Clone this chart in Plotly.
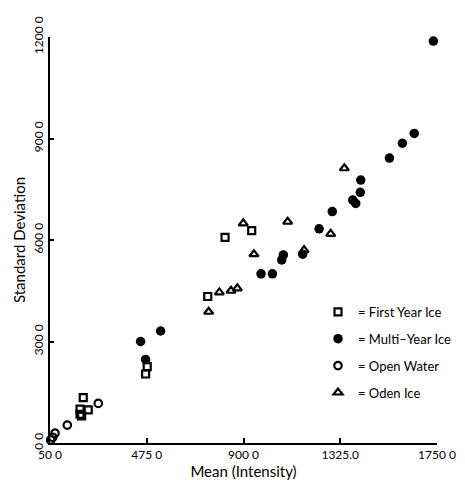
import plotly.graph_objects as go

# Mean intensity vs. standard deviation for four surface classes
first_year_x = [182, 189, 196, 182, 218, 470, 477, 743, 819, 936]
first_year_y = [85, 80, 134, 100, 98, 204, 226, 433, 608, 628]

multi_year_x = [448, 470, 536, 977, 1027, 1068, 1075, 1160, 1232, 1290,
                1380, 1393, 1413, 1415, 1541, 1598, 1650, 1734]
multi_year_y = [300, 247, 331, 500, 500, 541, 556, 558, 633, 684,
                718, 708, 741, 777, 842, 886, 915, 1188]

open_water_x = [53, 62, 72, 126, 262]
open_water_y = [9, 17, 29, 53, 117]

oden_x = [747, 794, 845, 873, 899, 946, 1094, 1166, 1283, 1343]
oden_y = [388, 445, 450, 457, 649, 558, 654, 570, 618, 812]

x_ticks = [50, 475, 900, 1325, 1750]
x_tick_text = ["50 0", "475 0", "900 0", "1325.0", "1750 0"]
y_ticks = [0, 300, 600, 900, 1200]
y_tick_text = ["0 0", "300 0", "600 0", "900 0", "1200 0"]

FONT = "Lato"

fig = go.Figure()

series = [
    ("= First Year Ice", first_year_x, first_year_y,
     dict(symbol="square-open", size=7, color="black", line=dict(width=2.2, color="black"))),
    ("= Multi\u2013Year Ice", multi_year_x, multi_year_y,
     dict(symbol="circle", size=9.5, color="black", line=dict(width=0))),
    ("= Open Water", open_water_x, open_water_y,
     dict(symbol="circle-open", size=7.5, color="black", line=dict(width=2.2, color="black"))),
    ("= Oden Ice", oden_x, oden_y,
     dict(symbol="triangle-up-open", size=8, color="black", line=dict(width=2.2, color="black"))),
]

for i, (name, xs, ys, marker) in enumerate(series):
    fig.add_trace(go.Scatter(
        x=xs, y=ys, mode="markers", name=name, marker=marker,
        legendgroup=f"g{i}", cliponaxis=False,
    ))

fig.update_layout(
    width=465, height=489,
    margin=dict(l=50, r=28, t=37, b=46, autoexpand=False),
    paper_bgcolor="white", plot_bgcolor="white",
    font=dict(family=FONT, color="black", size=12),
    showlegend=True,
    legend=dict(
        x=0.6925, y=0.36, xanchor="left", yanchor="top",
        font=dict(family=FONT, size=13, color="black"),
        itemwidth=30, tracegroupgap=7, bgcolor="rgba(0,0,0,0)",
        traceorder="grouped",
    ),
    xaxis=dict(
        range=[50, 1750], tickvals=x_ticks, ticktext=x_tick_text,
        automargin=False,
        showgrid=False, zeroline=False, showline=True,
        linecolor="black", linewidth=1.5,
        ticks="inside", ticklen=5, tickwidth=1.5, tickcolor="black",
        tickfont=dict(family=FONT, size=12, color="black"),
        title=dict(text="Mean (Intensity)", font=dict(family=FONT, size=15, color="black"),
                   standoff=4),
    ),
    yaxis=dict(
        range=[0, 1200], tickvals=y_ticks, ticktext=y_tick_text,
        tickangle=-90, automargin=False,
        showgrid=False, zeroline=False, showline=True,
        linecolor="black", linewidth=2,
        ticks="inside", ticklen=4, tickwidth=1.5, tickcolor="black",
        tickfont=dict(family=FONT, size=12, color="black"),
        title=dict(text="Standard Deviation", font=dict(family=FONT, size=15, color="black"),
                   standoff=2),
    ),
)

fig.write_html("out.html")
